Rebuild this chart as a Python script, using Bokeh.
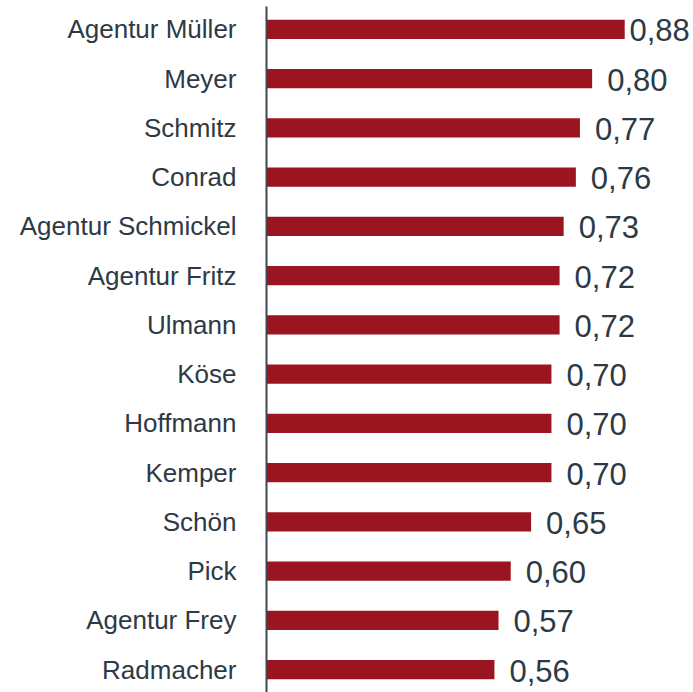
from bokeh.plotting import figure
from bokeh.models import Range1d, FactorRange, ColumnDataSource
from bokeh.embed import file_html
from bokeh.resources import INLINE
from bokeh.core.properties import value

categories = ["Agentur Müller", "Meyer", "Schmitz", "Conrad", "Agentur Schmickel",
              "Agentur Fritz", "Ulmann", "Köse", "Hoffmann", "Kemper", "Schön",
              "Pick", "Agentur Frey", "Radmacher"]
values = [0.88, 0.80, 0.77, 0.76, 0.73, 0.72, 0.72, 0.70, 0.70, 0.70, 0.65, 0.60, 0.57, 0.56]

BAR = "#9b1520"
TXT = "#2d3a45"
AXIS = "#3d4852"

W, H = 693, 692
LEFT = 266
TOP = 6
XMAX = 1.049
scale = (W - LEFT) / XMAX

labels = [f"{v:.2f}".replace(".", ",") for v in values]
offsets = [min(15.0, (XMAX - v) * scale - 61 - 3) for v in values]

src = ColumnDataSource(dict(cat=categories, val=values, lab=labels, off=offsets))

p = figure(width=W, height=H, output_backend="svg", toolbar_location=None,
           y_range=FactorRange(factors=list(reversed(categories)),
                               range_padding=-0.005, range_padding_units="percent"),
           x_range=Range1d(0, XMAX),
           min_border_left=LEFT, min_border_right=0, min_border_top=TOP, min_border_bottom=0)

p.hbar(y="cat", right="val", left=0, height=0.39, source=src, color=BAR, line_color=None)
p.text(x="val", y="cat", text="lab", source=src, x_offset="off",
       text_align="left", text_baseline="middle", text_font=value("Liberation Sans"),
       text_font_size="31px", text_color=TXT, y_offset=1)

p.xaxis.visible = False
p.xgrid.visible = False
p.ygrid.visible = False
p.outline_line_color = None
p.background_fill_color = "white"
p.border_fill_color = "white"

ya = p.yaxis[0]
ya.major_tick_line_color = None
ya.minor_tick_line_color = None
ya.major_tick_out = 0
ya.major_tick_in = 0
ya.axis_line_color = AXIS
ya.axis_line_width = 2
ya.major_label_standoff = 30
ya.major_label_text_font = "Liberation Sans"
ya.major_label_text_font_size = "26px"
ya.major_label_text_color = TXT

open("out.html", "w").write(file_html(p, INLINE))
